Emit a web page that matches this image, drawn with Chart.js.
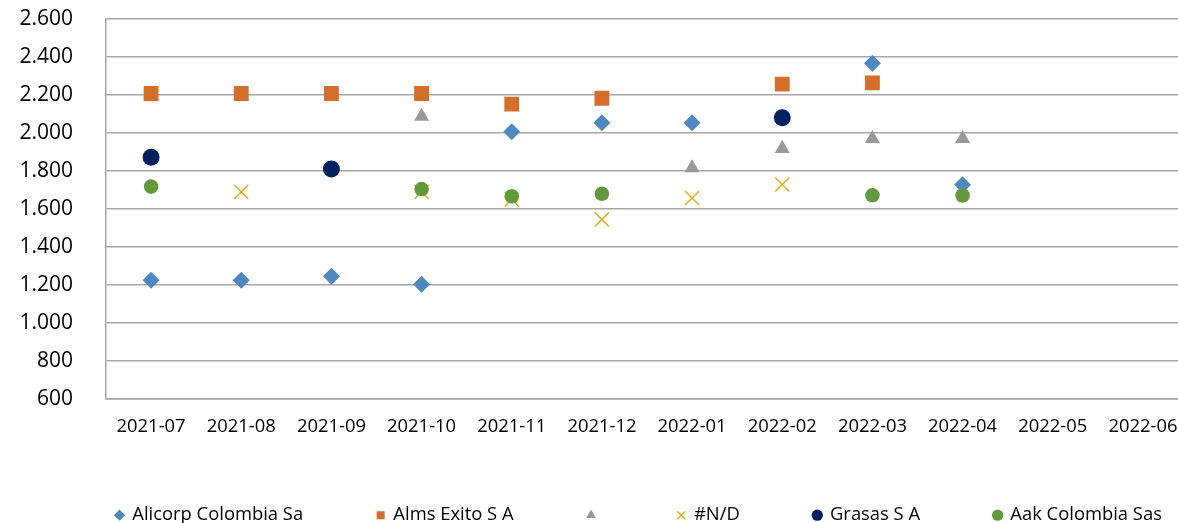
<!DOCTYPE html>
<html>
<head>
<meta charset="utf-8">
<script src="https://cdn.jsdelivr.net/npm/chart.js@4/dist/chart.umd.min.js"></script>
<style>
  html, body { margin: 0; padding: 0; overflow: hidden; background: #fff; }
</style>
</head>
<body>
<canvas id="precios" width="1278" height="523"></canvas>
<script>
var meses = ["2021-07", "2021-08", "2021-09", "2021-10", "2021-11", "2021-12",
             "2022-01", "2022-02", "2022-03", "2022-04", "2022-05", "2022-06"];
var alicorp  = [1225, 1225, 1246, 1204, 2007, 2054, 2054, null, 2367, 1727, null, null];
var almsExito = [2208, 2208, 2208, 2208, 2152, 2183, null, 2257, 2264, null, null, null];
var sinNombre = [null, null, null, 2087, null, null, 1816, 1918, 1970, 1970, null, null];
var nd       = [null, 1690, null, 1690, 1650, 1545, 1658, 1729, null, null, null, null];
var grasas   = [1872, null, 1811, null, null, null, null, 2080, null, null, null, null];
var aak      = [1718, null, null, 1705, 1667, 1680, null, null, 1672, 1671, null, null];
var yTicks = [600, 800, 1000, 1200, 1400, 1600, 1800, 2000, 2200, 2400, 2600];

function serie(label, data, color, style, radius, order) {
  return {
    label: label,
    data: data,
    showLine: false,
    pointStyle: style,
    pointRadius: radius,
    pointHoverRadius: radius,
    pointBackgroundColor: color,
    pointBorderColor: color,
    pointBorderWidth: style === "crossRot" ? 1.5 : 0,
    backgroundColor: color,
    borderColor: color,
    order: order
  };
}

// la leyenda va un poco mas arriba que donde la deja el layout
var subirLeyenda = {
  id: "subirLeyenda",
  afterLayout: function (c) {
    c.legend.top -= 7;
    c.legend.bottom -= 7;
  }
};

var ctx = document.getElementById("precios");
var chart = new Chart(ctx, {
  type: "line",
  data: {
    labels: meses,
    datasets: [
      serie("Alicorp Colombia Sa", alicorp, "#4f88c0", "rectRot", 8.5, 6),
      serie("Alms Exito S A", almsExito, "#d56e2b", "rect", 10.5, 5),
      serie("", sinNombre, "#999999", "triangle", 8.7, 4),
      serie("#N/D", nd, "#e6ad1a", "crossRot", 10, 3),
      serie("Grasas S A", grasas, "#002060", "circle", 8.5, 2),
      serie("Aak Colombia Sas", aak, "#63993d", "circle", 7.3, 1)
    ]
  },
  plugins: [subirLeyenda],
  options: {
    responsive: false,
    animation: false,
    layout: {padding: {top: 19, left: 0, right: 0, bottom: -18.4}},
    plugins: {
      tooltip: {enabled: false},
      legend: {
        position: "bottom",
        labels: {
          usePointStyle: true,
          boxWidth: 7,
          boxHeight: 8,
          padding: 74,
          color: "#000",
          font: {family: "Open Sans", size: 18.4},
          sort: function (a, b) { return a.datasetIndex - b.datasetIndex; }
        }
      }
    },
    scales: {
      x: {
        offset: true,
        grid: {display: false, drawTicks: false, offset: true},
        border: {display: true, color: "#a6a6a6", width: 1.5},
        ticks: {color: "#000", padding: 17, maxRotation: 0, autoSkip: false,
                font: {family: "Open Sans", size: 18.4}},
        afterFit: function (s) { s.height = 40; }
      },
      y: {
        min: 600,
        max: 2600,
        afterBuildTicks: function (s) { s.ticks = yTicks.map(function (v) { return {value: v}; }); },
        grid: {color: "#a6a6a6", lineWidth: 1.5, drawTicks: false},
        border: {display: true, color: "#a6a6a6", width: 1.5},
        ticks: {
          color: "#000",
          padding: 33,
          font: {family: "Open Sans", size: 21},
          callback: function (v) { return v.toLocaleString("de-DE"); }
        },
        afterFit: function (s) { s.width = 106; s.paddingTop = 0; s.paddingBottom = 0; }
      },
      derecha: {
        position: "right",
        display: true,
        grid: {display: false, drawTicks: false},
        border: {display: false},
        ticks: {display: false},
        afterFit: function (s) { s.width = 90; }
      }
    }
  }
});
</script>
</body>
</html>
